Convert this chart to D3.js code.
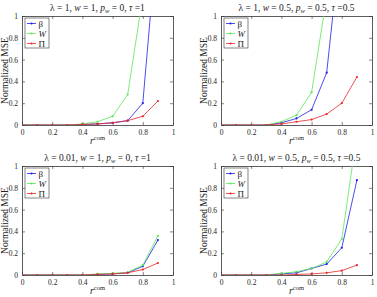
<!DOCTYPE html>
<html>
<head>
<meta charset="utf-8">
<script src="https://cdn.jsdelivr.net/npm/d3@7"></script>
<style>
  body { margin: 0; background: #fff; }
  text { font-family: "Liberation Serif", "Times New Roman", "DejaVu Serif", serif; fill: #222; }
</style>
</head>
<body>
<svg id="chart" width="377" height="297"></svg>
<script>
// x values shared by all panels
var rcom = [0, 0.1, 0.2, 0.3, 0.4, 0.5, 0.6, 0.7, 0.8, 0.9];
var xTicks = [0, 0.2, 0.4, 0.6, 0.8, 1];
var yTicks = [0, 0.2, 0.4, 0.6, 0.8, 1];
var seriesNames = ["β", "W", "Π"];

// panel 1: lambda=1, w=1, pw=0, tau=1
var beta1 = [0, 0, 0, 0, 0.005, 0.01, 0.02, 0.04, 0.2, 1.8];
var w1    = [0, 0, 0, 0, 0.01, 0.03, 0.08, 0.28, 1.18, 2.4];
var pi1   = [0, 0, 0, 0, 0.005, 0.01, 0.02, 0.04, 0.08, 0.22];

// panel 2: lambda=1, w=0.5, pw=0.5, tau=0.5
var beta2 = [0, 0, 0, 0, 0.02, 0.06, 0.14, 0.48, 1.78, 3.0];
var w2    = [0, 0, 0, 0, 0.03, 0.09, 0.30, 1.18, 2.5, 4.0];
var pi2   = [0, 0, 0, 0, 0.01, 0.03, 0.05, 0.10, 0.20, 0.44];

// panel 3: lambda=0.01, w=1, pw=0, tau=1
var beta3 = [0, 0, 0, 0, 0, 0.005, 0.01, 0.02, 0.08, 0.32];
var w3    = [0, 0, 0, 0, 0, 0.01, 0.015, 0.025, 0.09, 0.36];
var pi3   = [0, 0, 0, 0, 0, 0.005, 0.01, 0.02, 0.05, 0.11];

// panel 4: lambda=0.01, w=0.5, pw=0.5, tau=0.5
var beta4 = [0, 0, 0, 0, 0.01, 0.02, 0.06, 0.10, 0.25, 0.87];
var w4    = [0, 0, 0, 0, 0.015, 0.03, 0.06, 0.12, 0.33, 1.29];
var pi4   = [0, 0, 0, 0, 0, 0.005, 0.01, 0.02, 0.04, 0.09];

var colors = ["#1f1fe6", "#5ae65a", "#e8262b"];
var serif = '"Liberation Serif", "Times New Roman", "DejaVu Serif", serif';

var panels = [
    {x: 22, y: 16, title: ["1", "1", "0", "1"], data: [beta1, w1, pi1]},
    {x: 221, y: 16, title: ["1", "0.5", "0.5", "0.5"], data: [beta2, w2, pi2]},
    {x: 22, y: 166, title: ["0.01", "1", "0", "1"], data: [beta3, w3, pi3]},
    {x: 221, y: 166, title: ["0.01", "0.5", "0.5", "0.5"], data: [beta4, w4, pi4]}
];

var svg = d3.select('#chart');
var plotW = 151, plotH = 109;

var xScale = d3.scaleLinear().domain([0, 1]).range([0, plotW]);
var yScale = d3.scaleLinear().domain([0, 1]).range([plotH, 0]);

var line = d3.line()
    .x(function(d, i) { return xScale(rcom[i]); })
    .y(function(d) { return yScale(d); });

panels.forEach(function(p, pi) {
    var g = svg.append('g').attr('transform', 'translate(' + p.x + ',' + p.y + ')');

    g.append('clipPath').attr('id', 'clip' + pi)
        .append('rect').attr('width', plotW).attr('height', plotH);

    // ticks inside (bottom/left with labels, top/right without)
    var xAxis = d3.axisBottom(xScale).tickValues(xTicks).tickSizeInner(-3).tickSizeOuter(0).tickPadding(5)
        .tickFormat(d3.format('~g'));
    var yAxis = d3.axisLeft(yScale).tickValues(yTicks).tickSizeInner(-3).tickSizeOuter(0).tickPadding(4)
        .tickFormat(d3.format('~g'));

    var gx = g.append('g').attr('transform', 'translate(0,' + plotH + ')').call(xAxis);
    var gy = g.append('g').call(yAxis);
    g.append('g').call(d3.axisTop(xScale).tickValues(xTicks).tickSizeInner(-3).tickSizeOuter(0).tickFormat(''));
    g.append('g').attr('transform', 'translate(' + plotW + ',0)')
        .call(d3.axisRight(yScale).tickValues(yTicks).tickSizeInner(-3).tickSizeOuter(0).tickFormat(''));

    g.selectAll('g').attr('font-family', serif);
    g.selectAll('.domain').attr('stroke', '#333').attr('stroke-width', 0.8);
    g.selectAll('.tick line').attr('stroke', '#333').attr('stroke-width', 0.6);
    g.selectAll('.tick text').attr('font-family', serif).style('font-size', '7.5px').attr('fill', '#222');
    gy.selectAll('.tick text').attr('dy', '0.32em');

    // data lines
    var plot = g.append('g').attr('clip-path', 'url(#clip' + pi + ')');
    p.data.forEach(function(series, si) {
        plot.append('path')
            .datum(series)
            .attr('d', line)
            .attr('fill', 'none')
            .attr('stroke', colors[si])
            .attr('stroke-width', 0.8);
        plot.selectAll('.pt' + si)
            .data(series)
            .enter()
            .append('circle')
            .attr('cx', function(d, i) { return xScale(rcom[i]); })
            .attr('cy', function(d) { return yScale(d); })
            .attr('r', 1.1)
            .attr('fill', colors[si]);
    });

    // title
    var t = g.append('text')
        .attr('x', plotW / 2)
        .attr('y', -5)
        .attr('text-anchor', 'middle')
        .attr('font-family', serif)
        .style('font-size', '9.5px');
    t.append('tspan').text('λ = ' + p.title[0] + ', ');
    t.append('tspan').style('font-style', 'italic').text('w');
    t.append('tspan').text(' = ' + p.title[1] + ', ');
    t.append('tspan').style('font-style', 'italic').text('p');
    t.append('tspan').style('font-style', 'italic').style('font-size', '6.5px').attr('dy', 2).text('w');
    t.append('tspan').attr('dy', -2).text(' = ' + p.title[2] + ', ');
    t.append('tspan').style('font-style', 'italic').text('τ');
    t.append('tspan').text(' =' + p.title[3]);

    // x label
    var xl = g.append('text')
        .attr('x', plotW / 2)
        .attr('y', plotH + 19)
        .attr('text-anchor', 'middle')
        .attr('font-family', serif)
        .style('font-size', '10px');
    xl.append('tspan').style('font-style', 'italic').text('r');
    xl.append('tspan').style('font-size', '6.5px').attr('dy', -4).text('com');

    // y label
    g.append('text')
        .attr('transform', 'translate(-14,' + plotH / 2 + ') rotate(-90)')
        .attr('text-anchor', 'middle')
        .attr('font-family', serif)
        .style('font-size', '9.5px')
        .text('Normalized MSE');

    // legend
    var lg = g.append('g').attr('transform', 'translate(3,2)');
    lg.append('rect')
        .attr('width', 24).attr('height', 30)
        .attr('fill', '#fff')
        .attr('stroke', '#333')
        .attr('stroke-width', 0.6);
    seriesNames.forEach(function(name, si) {
        var yy = 5.5 + si * 10;
        lg.append('line')
            .attr('x1', 2).attr('x2', 11)
            .attr('y1', yy).attr('y2', yy)
            .attr('stroke', colors[si]).attr('stroke-width', 0.8);
        lg.append('circle').attr('cx', 6.5).attr('cy', yy).attr('r', 1.1).attr('fill', colors[si]);
        lg.append('text')
            .attr('x', 13.5).attr('y', yy)
            .attr('dy', '0.35em')
            .attr('font-family', serif)
            .style('font-size', '9px')
            .style('font-style', si == 1 ? 'italic' : 'normal')
            .text(name);
    });
});
</script>
</body>
</html>
